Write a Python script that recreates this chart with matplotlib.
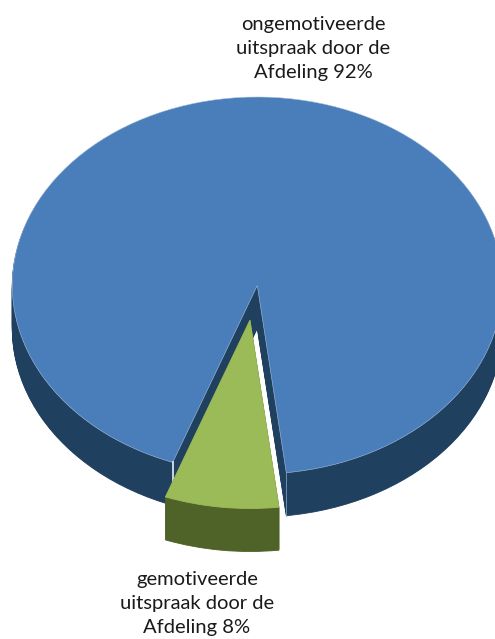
import numpy as np
import matplotlib
matplotlib.use("Agg")
import matplotlib.pyplot as plt

plt.rcParams['font.family'] = ['Lato', 'DejaVu Sans']

labels = ["ongemotiveerde\nuitspraak door de\nAfdeling 92%", "gemotiveerde\nuitspraak door de\nAfdeling 8%"]
values = [92.5, 7.5]
top_colors = ["#4A7EBB", "#9BBB59"]
wall_colors = ["#20405F", "#4F6228"]

W, H = 495, 639
RX, RY = 245.0, 188.5
SQ = RY / RX
DEPTH = 43
START = -83.2

fig = plt.figure(figsize=(W / 100, H / 100), dpi=100)
ax = fig.add_axes([0, 0, 1, 1])


def draw(val, cx, cy, color, start, z, edge=None, lw=0.6):
    wedges, _ = ax.pie([val, 100 - val], colors=[color, 'none'], startangle=start,
                       center=(cx, -cy / SQ), radius=RX, counterclock=True,
                       wedgeprops=dict(linewidth=lw, edgecolor='none'))
    wedges[0].set_zorder(z)
    wedges[0].set_edgecolor(edge or color)
    wedges[1].remove()


blue_c = (257.3, 285.5)
green_c = (250.0, 320)
green_start = START - values[1] * 3.6

for d in np.arange(DEPTH, 0, -1.0):
    draw(values[0], blue_c[0], blue_c[1] + d, wall_colors[0], START, 1)
draw(values[0], blue_c[0], blue_c[1], top_colors[0], START, 2, edge='#A9C2E0', lw=0.4)

for d in np.arange(DEPTH, 0, -1.0):
    draw(values[1], green_c[0], green_c[1] + d, wall_colors[1], green_start, 3)
draw(values[1], green_c[0], green_c[1], top_colors[1], green_start, 4)

# thin light line on the vertical corner of the blue slice
for ang, col, lw in [(START + values[0] * 3.6, 'white', 1.1), (START, '#7F9DB9', 0.6)]:
    xe = blue_c[0] + RX * np.cos(np.radians(ang))
    ye = -blue_c[1] / SQ + RX * np.sin(np.radians(ang))
    ax.plot([xe, xe], [ye, ye - DEPTH / SQ], color=col, lw=lw, zorder=2.5)

ax.set_aspect('auto')
ax.set_xlim(0, W)
ax.set_ylim(-H / SQ, 0)
ax.axis('off')

ax.text(313, -48.5 / SQ, labels[0], ha='center', va='center', fontsize=14.5,
        color='#1a1a1a', linespacing=1.5, zorder=6)
ax.text(197, -604 / SQ, labels[1], ha='center', va='center', fontsize=14.5,
        color='#1a1a1a', linespacing=1.5, zorder=6)

fig.savefig("out.png", dpi=100)
